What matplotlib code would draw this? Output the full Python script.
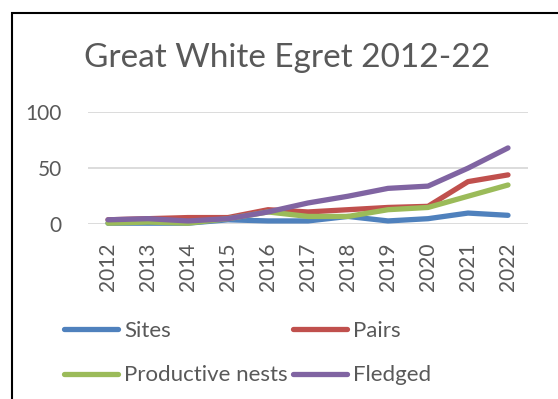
import matplotlib
matplotlib.use("Agg")
import matplotlib.pyplot as plt
from matplotlib.patches import Rectangle

years = ["2012", "2013", "2014", "2015", "2016", "2017", "2018", "2019", "2020", "2021", "2022"]
sites = [1, 1, 1, 4, 3, 3, 7, 3, 5, 10, 8]
pairs = [4, 5, 6, 6, 13, 11, 13, 15, 16, 38, 44]
productive_nests = [1, 2, 1, 5, 11, 7, 7, 13, 15, 25, 35]
fledged = [4, 5, 3, 5, 11, 19, 25, 32, 34, 50, 68]

series = [
    (sites, "#4F81BD", "Sites"),
    (pairs, "#C0504D", "Pairs"),
    (productive_nests, "#9BBB59", "Productive nests"),
    (fledged, "#8064A2", "Fledged"),
]

plt.rcParams['font.family'] = ['Lato', 'DejaVu Sans']
text_col = '#595959'

fig = plt.figure(figsize=(5.58, 3.99), dpi=100)
W, H = 558, 399
ax = fig.add_axes([88 / W, 1 - 224.3 / H, (528 - 88) / W, (224.3 - 112) / H])

x = list(range(len(years)))
handles = []
for vals, color, label in series:
    ln, = ax.plot(x, vals, color=color, lw=3.8, solid_capstyle='round',
                  solid_joinstyle='round', label=label, clip_on=False)
    handles.append(ln)

ax.set_xlim(-0.5, len(years) - 0.5)
ax.set_ylim(0, 100)
ax.set_yticks([0, 50, 100])
ax.set_xticks(x, years, rotation=90)
ax.grid(axis='y', color='#D9D9D9', lw=1.3)
ax.set_axisbelow(True)
for s in ax.spines.values():
    s.set_visible(False)
ax.tick_params(length=0, colors=text_col, labelsize=15)
ax.tick_params(axis='y', pad=19)
ax.tick_params(axis='x', pad=13)

fig.text(287 / W, 1 - 58 / H, "Great White Egret 2012-22", ha='center', va='center',
         fontsize=24, color=text_col)

# row-major order for a 2-column legend
order = [0, 2, 1, 3]
leg = fig.legend([handles[i] for i in order], [series[i][2] for i in order],
                 loc='upper left', bbox_to_anchor=(64 / W, 1 - 321 / H), ncol=2,
                 frameon=False, fontsize=16, handlelength=2.45, handletextpad=0.27,
                 columnspacing=0.22, labelspacing=1.1, borderaxespad=0, borderpad=0)
for t in leg.get_texts():
    t.set_color(text_col)

# chart border (cut off at right and bottom)
fig.add_artist(Rectangle((12 / W, -0.1), 1.2, 1.1 - 13 / H, transform=fig.transFigure,
                         fill=False, ec='black', lw=1.5))

fig.savefig("out.png", dpi=100)
